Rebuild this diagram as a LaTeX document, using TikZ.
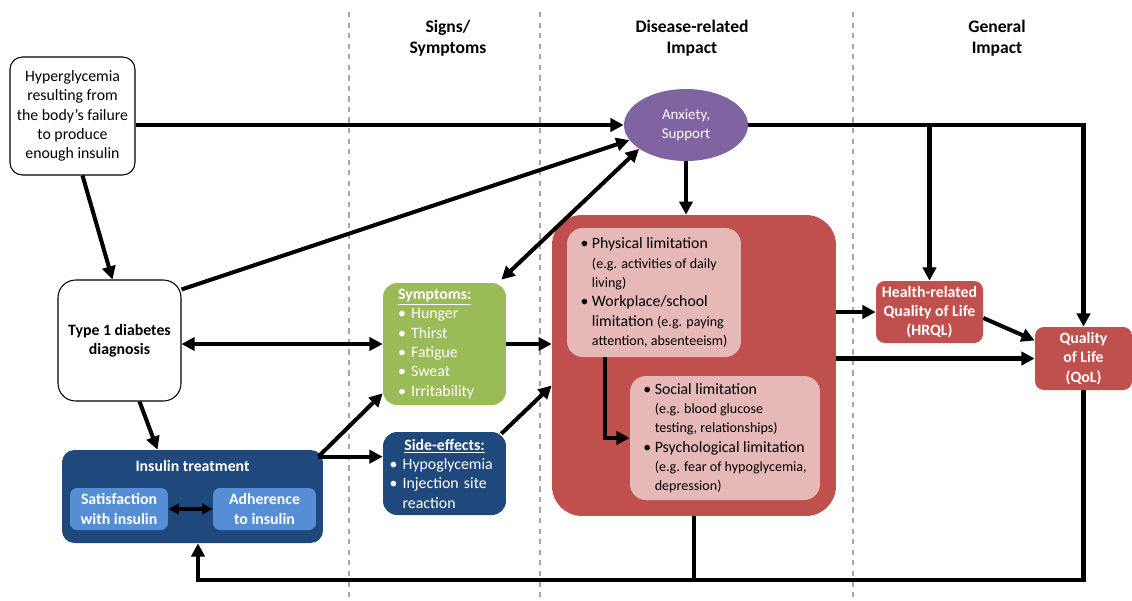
\documentclass[tikz,border=0pt]{standalone}
\usepackage{fontspec}
\setmainfont{Carlito}
\usetikzlibrary{shapes,arrows.meta,calc}

\definecolor{anxpurple}{HTML}{8064A2}
\definecolor{symgreen}{HTML}{9BBB59}
\definecolor{insblue}{HTML}{1F497D}
\definecolor{subblue}{HTML}{558ED5}
\definecolor{impred}{HTML}{C0504D}
\definecolor{limpink}{HTML}{E6B9B8}

\newcommand{\bul}{\textbullet\ }
\newcommand{\eg}[1]{{\fontsize{8}{9}\selectfont #1}}

\begin{document}
\begin{tikzpicture}[
    x=0.02cm,y=-0.02cm,
    font=\fontsize{9}{11}\selectfont,
	block/.style={draw, line width=0.6pt, align=center, inner sep=0},
	fillbox/.style={fill=#1, text=white, align=center, inner sep=0},
	header/.style={font=\fontsize{10}{12}\selectfont\bfseries, align=center},
	conn/.style={line width=2.3pt, -{Triangle[length=7.5pt,width=7.5pt]}},
	both/.style={conn, {Triangle[length=7.5pt,width=7.5pt]}-{Triangle[length=7.5pt,width=7.5pt]}}
]
\useasboundingbox (0,0) rectangle (1132,600);

\foreach \x in {349,540,853}
    \draw[dashed, gray!70, line width=0.6pt] (\x,12) -- (\x,600);

\node[header] (hsigns) at (448,38) {Signs/\\Symptoms};
\node[header] (hdisease) at (692,38) {Disease-related\\Impact};
\node[header] (hgeneral) at (997,38) {General\\Impact};

\node[block, rounded corners=7pt, minimum width=2.5cm, minimum height=2.36cm] (hyper) at (72.5,116) {Hyperglycemia\\resulting from\\the body's failure\\to produce\\enough insulin};
\node[block, rounded corners=10pt, minimum width=2.46cm, minimum height=2.42cm, font=\fontsize{9}{11}\selectfont\bfseries] (type1) at (119.5,340.5) {Type 1 diabetes\\diagnosis};
\node[ellipse, fill=anxpurple, text=white, align=center, inner sep=0, minimum width=2.48cm, minimum height=1.44cm, font=\fontsize{8.5}{10.5}\selectfont] (anx) at (686,125) {Anxiety,\\Support};

\node[fillbox=symgreen, rounded corners=8pt, minimum width=2.46cm, minimum height=2.44cm, text width=1.86cm, align=left] (sympt) at (444.5,344) {\underline{\textbf{Symptoms:}}\\\bul Hunger\\\bul Thirst\\\bul Fatigue\\\bul Sweat\\\bul Irritability};
\node[fillbox=insblue, rounded corners=8pt, minimum width=2.46cm, minimum height=1.66cm, text width=2.2cm, align=left] (side) at (444.5,473.5) {\makebox[2.2cm]{\underline{\textbf{Side-effects:}}}\\\bul Hypoglycemia\\\bul Injection site\\\phantom{\bul}reaction};

\node[fillbox=insblue, rounded corners=7pt, minimum width=5.22cm, minimum height=1.86cm] (ins) at (192.5,496.5) {};
\node[text=white, font=\fontsize{9}{11}\selectfont\bfseries] (institle) at (192.5,466) {Insulin treatment};
\node[fillbox=subblue, rounded corners=4pt, minimum width=1.96cm, minimum height=0.84cm, font=\fontsize{9}{11}\selectfont\bfseries] (satis) at (119,509) {Satisfaction\\with insulin};
\node[fillbox=subblue, rounded corners=4pt, minimum width=2.06cm, minimum height=0.84cm, font=\fontsize{9}{11}\selectfont\bfseries] (adher) at (264.5,509) {Adherence\\to insulin};

\node[fillbox=impred, rounded corners=17pt, minimum width=5.68cm, minimum height=6.02cm] (red) at (694,365.5) {};
\node[fillbox=limpink, text=black, rounded corners=9pt, minimum width=3.48cm, minimum height=2.58cm, align=left] (phys) at (654,292.5) {\bul Physical limitation\\\phantom{\bul}\eg{(e.g. activities of daily}\\\phantom{\bul}\eg{living)}\\\bul Workplace/school\\\phantom{\bul}limitation \eg{(e.g. paying}\\\phantom{\bul}\eg{attention, absenteeism)}};
\node[fillbox=limpink, text=black, rounded corners=9pt, minimum width=3.8cm, minimum height=2.48cm, align=left] (soc) at (725,438) {\bul Social limitation\\\phantom{\bul}\eg{(e.g. blood glucose}\\\phantom{\bul}\eg{testing, relationships)}\\\bul Psychological limitation\\\phantom{\bul}\eg{(e.g. fear of hypoglycemia,}\\\phantom{\bul}\eg{depression)}};

\node[fillbox=impred, rounded corners=5pt, minimum width=2.14cm, minimum height=1.24cm, font=\fontsize{9}{11}\selectfont\bfseries] (hrql) at (929.5,312) {Health-related\\Quality of Life\\(HRQL)};
\node[fillbox=impred, rounded corners=5pt, minimum width=1.94cm, minimum height=1.26cm, font=\fontsize{9}{11}\selectfont\bfseries] (qol) at (1083.5,358.5) {Quality\\of Life\\(QoL)};

\draw[conn] (anx.west -| hyper.east) -- (anx.west);
\draw[conn] (anx.east) -- (anx.east -| qol.north) -- (qol.north);
\draw[conn] (anx.east -| hrql.north) -- (hrql.north);
\draw[conn] ($(hyper.south)+(10,0)$) -- ($(type1.north)+(-7,0)$);
\draw[conn] ($(type1.north east)+(0,10)$) -- (anx.195);
\draw[both] ($(sympt.north east)+(-5,-3)$) -- (anx.207);
\draw[both] (sympt.west -| type1.east) -- (sympt.west);
\draw[conn] ($(type1.south)+(20,0)$) -- ($(ins.north)+(-35,0)$);
\coordinate (insout) at ($(ins.north east)+(-5,7)$);
\draw[conn] (insout) -- ($(sympt.south west)+(0,-12)$);
\draw[conn] (insout) -- (insout -| side.west);
\draw[both, line width=2pt, {Triangle[length=6pt,width=6pt]}-{Triangle[length=6pt,width=6pt]}] (satis) -- (adher);
\draw[conn] (sympt.east) -- (sympt.east -| red.west);
\draw[conn] ($(side.north east)+(-5,2)$) -- ($(red.west)+(0,20)$);
\draw[conn] (anx.south) -- (anx.south |- red.north);
\draw[conn] ($(phys.south)+(-49,0)$) |- (soc.west);
\draw[conn] (hrql.west -| red.east) -- (hrql.west);
\draw[conn] ($(hrql.east)+(0,6)$) -- ($(qol.west)+(0,-18)$);
\draw[conn] (qol.west -| red.east) -- (qol.west);
\coordinate (fb) at (198,580);
\draw[conn] (qol.south) |- (fb) -- (fb |- ins.south);
\draw[line width=2.3pt] (red.south) -- (red.south |- fb);
\end{tikzpicture}
\end{document}
